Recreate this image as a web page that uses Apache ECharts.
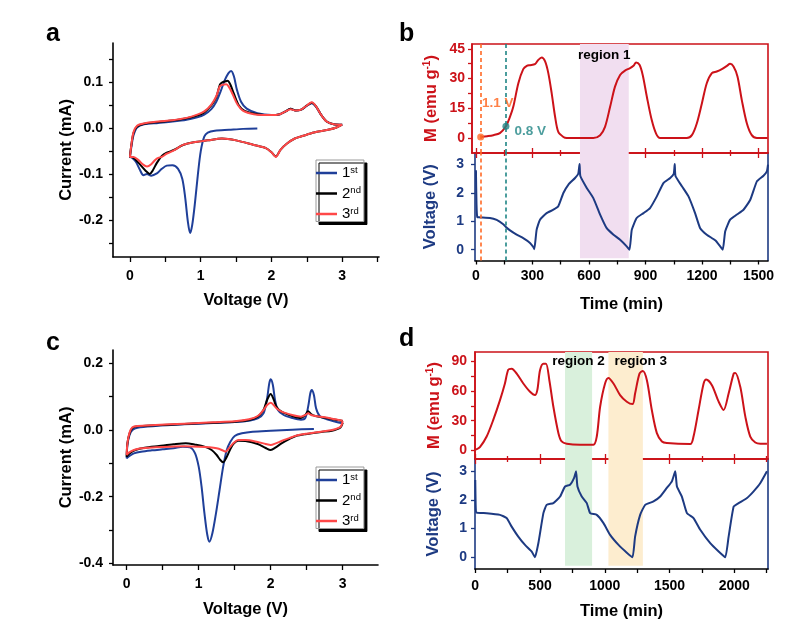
<!DOCTYPE html>
<html><head><meta charset="utf-8">
<script src="https://cdn.jsdelivr.net/npm/echarts@6/dist/echarts.min.js"></script>
<style>html,body{margin:0;padding:0;background:#fff}#c{width:800px;height:628px}</style>
</head><body><div id="c"></div>
<script>
// ---------------- DATA ----------------
// Panel a: CV curves [voltage (V), current (mA)]
const cvA_1st = [[1.80,0.000],[1.60,-0.001],[1.40,-0.003],[1.20,-0.005],[1.10,-0.009],[1.05,-0.018],[1.00,-0.050],[0.96,-0.100],[0.92,-0.160],[0.88,-0.210],[0.85,-0.228],[0.82,-0.205],[0.78,-0.150],[0.74,-0.110],[0.68,-0.088],[0.60,-0.080],[0.52,-0.081],[0.45,-0.088],[0.38,-0.098],[0.30,-0.103],[0.24,-0.099],[0.19,-0.102],[0.14,-0.090],[0.08,-0.072],[0.02,-0.063],[0.00,-0.062],
  [0.02,-0.040],[0.05,-0.015],[0.10,0.002],[0.20,0.009],[0.40,0.012],[0.60,0.015],[0.80,0.019],[0.95,0.024],[1.05,0.030],[1.15,0.042],[1.22,0.058],[1.28,0.080],[1.34,0.105],[1.39,0.120],[1.43,0.125],[1.47,0.113],[1.51,0.085],[1.57,0.058],[1.65,0.043],[1.80,0.033],[2.00,0.029],[2.12,0.031],[2.20,0.037],[2.27,0.043],[2.34,0.039],[2.42,0.041],[2.50,0.049],[2.57,0.055],[2.63,0.047],[2.70,0.030],[2.78,0.015],[2.88,0.009],[3.00,0.008]];
const cvA_2nd = [[3.00,0.008],[2.92,0.002],[2.80,-0.003],[2.60,-0.009],[2.45,-0.016],[2.33,-0.022],[2.22,-0.033],[2.13,-0.046],[2.06,-0.061],[2.00,-0.052],[1.92,-0.043],[1.75,-0.036],[1.50,-0.026],[1.30,-0.022],[1.10,-0.026],[0.90,-0.030],[0.75,-0.036],[0.62,-0.047],[0.52,-0.053],[0.45,-0.060],[0.38,-0.075],[0.32,-0.092],[0.28,-0.099],[0.22,-0.092],[0.15,-0.080],[0.08,-0.068],[0.02,-0.062],[0.00,-0.062],
  [0.02,-0.035],[0.05,-0.010],[0.10,0.004],[0.20,0.010],[0.40,0.014],[0.60,0.017],[0.80,0.022],[0.95,0.028],[1.05,0.035],[1.15,0.050],[1.22,0.068],[1.27,0.095],[1.30,0.100],[1.34,0.102],[1.38,0.104],[1.42,0.095],[1.47,0.075],[1.54,0.050],[1.62,0.038],[1.80,0.031],[2.00,0.029],[2.12,0.031],[2.20,0.037],[2.27,0.043],[2.34,0.039],[2.42,0.041],[2.50,0.050],[2.57,0.056],[2.63,0.048],[2.70,0.030],[2.78,0.015],[2.88,0.009],[3.00,0.008]];
const cvA_3rd = [[3.00,0.008],[2.92,0.002],[2.80,-0.003],[2.60,-0.009],[2.45,-0.016],[2.33,-0.022],[2.22,-0.033],[2.13,-0.046],[2.06,-0.062],[2.00,-0.052],[1.92,-0.043],[1.75,-0.036],[1.50,-0.026],[1.30,-0.022],[1.10,-0.026],[0.90,-0.030],[0.75,-0.036],[0.62,-0.048],[0.52,-0.055],[0.45,-0.062],[0.40,-0.064],[0.36,-0.068],[0.30,-0.078],[0.24,-0.083],[0.18,-0.078],[0.12,-0.069],[0.05,-0.062],[0.00,-0.062],
  [0.02,-0.035],[0.05,-0.008],[0.10,0.006],[0.20,0.011],[0.40,0.015],[0.60,0.018],[0.80,0.023],[0.95,0.030],[1.05,0.037],[1.15,0.052],[1.22,0.070],[1.27,0.092],[1.31,0.095],[1.36,0.096],[1.40,0.090],[1.45,0.075],[1.52,0.052],[1.60,0.038],[1.75,0.031],[2.00,0.029],[2.12,0.031],[2.20,0.037],[2.27,0.042],[2.34,0.039],[2.42,0.041],[2.50,0.050],[2.57,0.057],[2.63,0.048],[2.70,0.030],[2.78,0.015],[2.88,0.009],[3.00,0.008]];

// Panel c: CV curves [voltage (V), current (mA)]
const cvC_1st = [[2.60,0.003],[2.30,0.001],[2.00,-0.002],[1.75,-0.005],[1.60,-0.010],[1.50,-0.018],[1.44,-0.035],[1.39,-0.060],[1.34,-0.110],[1.29,-0.180],[1.24,-0.250],[1.19,-0.310],[1.15,-0.335],[1.12,-0.315],[1.08,-0.250],[1.04,-0.170],[1.00,-0.110],[0.95,-0.070],[0.88,-0.052],[0.78,-0.050],[0.65,-0.055],[0.50,-0.058],[0.35,-0.061],[0.20,-0.065],[0.10,-0.070],[0.04,-0.078],[0.00,-0.085],
  [0.01,-0.045],[0.04,-0.015],[0.08,0.000],[0.15,0.007],[0.40,0.012],[0.80,0.017],[1.20,0.021],[1.50,0.024],[1.70,0.028],[1.82,0.035],[1.90,0.050],[1.95,0.095],[1.98,0.140],[2.00,0.152],[2.03,0.135],[2.06,0.090],[2.10,0.060],[2.18,0.045],[2.30,0.036],[2.42,0.031],[2.48,0.036],[2.52,0.070],[2.55,0.110],[2.57,0.120],[2.60,0.105],[2.63,0.065],[2.68,0.042],[2.78,0.032],[2.90,0.025],[3.00,0.020]];
const cvC_2nd = [[3.00,0.022],[2.97,0.008],[2.85,-0.002],[2.70,-0.006],[2.50,-0.012],[2.35,-0.018],[2.25,-0.028],[2.15,-0.040],[2.07,-0.052],[2.00,-0.060],[1.93,-0.054],[1.82,-0.042],[1.65,-0.033],[1.55,-0.032],[1.48,-0.042],[1.43,-0.062],[1.38,-0.085],[1.34,-0.097],[1.30,-0.090],[1.25,-0.075],[1.18,-0.060],[1.08,-0.050],[0.95,-0.044],[0.82,-0.040],[0.65,-0.043],[0.45,-0.048],[0.25,-0.053],[0.12,-0.060],[0.04,-0.070],[0.00,-0.080],
  [0.01,-0.040],[0.04,-0.010],[0.08,0.006],[0.15,0.011],[0.40,0.014],[0.80,0.018],[1.20,0.022],[1.50,0.025],[1.70,0.030],[1.82,0.040],[1.90,0.060],[1.95,0.090],[2.00,0.108],[2.04,0.092],[2.08,0.070],[2.15,0.055],[2.30,0.042],[2.42,0.036],[2.48,0.045],[2.52,0.056],[2.56,0.048],[2.62,0.042],[2.75,0.037],[2.90,0.031],[3.00,0.027]];
const cvC_3rd = [[3.00,0.027],[2.97,0.010],[2.85,0.000],[2.70,-0.005],[2.50,-0.011],[2.35,-0.017],[2.25,-0.025],[2.15,-0.033],[2.07,-0.040],[2.00,-0.045],[1.93,-0.042],[1.82,-0.036],[1.65,-0.030],[1.55,-0.030],[1.48,-0.040],[1.42,-0.055],[1.37,-0.065],[1.32,-0.060],[1.25,-0.055],[1.15,-0.052],[1.00,-0.050],[0.80,-0.049],[0.60,-0.050],[0.40,-0.052],[0.20,-0.055],[0.10,-0.060],[0.03,-0.068],[0.00,-0.075],
  [0.01,-0.040],[0.04,-0.008],[0.08,0.008],[0.15,0.012],[0.40,0.015],[0.80,0.019],[1.20,0.023],[1.50,0.026],[1.70,0.032],[1.82,0.042],[1.90,0.060],[1.95,0.075],[2.00,0.082],[2.04,0.075],[2.08,0.065],[2.15,0.055],[2.30,0.045],[2.42,0.040],[2.48,0.045],[2.52,0.050],[2.56,0.045],[2.62,0.042],[2.75,0.038],[2.90,0.032],[3.00,0.028]];

// Panel b: [time (min), M (emu/g)] and [time (min), voltage (V)]
const bMagnet = [[25,0.5],[60,0.9],[92,1.4],[127,2.4],[159,5.9],[178,10],[198,15.7],[225,27.6],[251,34.7],[270,36.4],[287,36.7],[313,37.2],[331,39.4],[349,40.6],[367,38.6],[384,32.7],[402,22.5],[420,10.7],[437,3.0],[464,0.5],[482,0],[623,0],[659,1.4],[685,5.6],[712,15.7],[738,25.9],[765,31.8],[791,34.0],[818,35.2],[836,36.4],[850,38.1],[868,36.9],[885,31.8],[907,20.8],[933,9.0],[956,2.2],[977,0],[1119,0],[1146,1.4],[1172,7.3],[1199,17.4],[1225,27.6],[1252,32.7],[1278,33.5],[1305,34.7],[1332,36.4],[1349,37.4],[1367,36.0],[1388,31.0],[1411,19.1],[1438,7.3],[1464,1.4],[1491,0],[1548,0]];
const bVoltage = [[0,2.8],[3,1.6],[7,1.15],[21,1.14],[74,1.12],[110,1.05],[145,0.9],[159,0.8],[181,0.68],[216,0.53],[251,0.41],[287,0.24],[305,0.09],[310,0.02],[322,0.7],[340,1.06],[375,1.29],[411,1.41],[437,1.53],[464,2.0],[490,2.29],[526,2.53],[543,2.68],[550,3.02],[554,2.6],[588,2.18],[623,1.82],[659,1.24],[694,0.76],[730,0.53],[765,0.35],[800,0.12],[815,0.0],[827,0.7],[853,1.12],[889,1.29],[924,1.47],[960,1.88],[995,2.35],[1031,2.53],[1050,2.68],[1055,3.02],[1059,2.6],[1093,2.24],[1128,1.88],[1163,1.29],[1190,0.76],[1225,0.53],[1270,0.33],[1296,0.12],[1310,0.0],[1323,0.65],[1349,1.06],[1385,1.24],[1420,1.41],[1456,1.76],[1491,2.41],[1526,2.61],[1544,2.76],[1550,3.0]];
const bMarkers = [[25,0.5,'1.1 V'],[159,5.9,'0.8 V']];
const bRegion1 = [552, 811];

// Panel d
const dMagnet = [[5,0.7],[36,3.3],[88,14],[139,30.8],[191,50.8],[229,67.6],[255,81.6],[281,82.6],[320,77.6],[371,67.6],[423,59.2],[461,55.9],[479,60.9],[500,80.9],[526,87.6],[546,87.6],[572,70.9],[603,44.1],[642,17.4],[667,9],[706,6.7],[809,5.7],[912,5.7],[938,14],[964,44.1],[1002,67.6],[1028,73.2],[1067,67.6],[1118,55.9],[1170,49.2],[1214,46.8],[1234,57.5],[1268,77.6],[1294,80.3],[1325,70.9],[1363,40.8],[1402,17.4],[1441,9],[1479,7.4],[1660,6.4],[1685,14],[1724,40.8],[1763,67.6],[1783,71.6],[1827,65.9],[1879,49.2],[1917,40.8],[1956,57.5],[1995,77.6],[2008,78.3],[2046,64.2],[2085,34.1],[2123,14],[2162,8],[2201,6.7],[2252,6.7]];
const dVoltage = [[0,2.7],[4,1.7],[10,1.56],[88,1.54],[191,1.48],[242,1.37],[281,1.07],[332,0.72],[384,0.43],[436,0.2],[461,0],[487,0.49],[526,1.54],[551,1.83],[603,1.89],[655,2.12],[693,2.47],[732,2.53],[763,2.77],[778,3.0],[789,2.47],[822,2.12],[861,1.89],[887,1.54],[938,1.48],[990,1.19],[1041,0.78],[1106,0.43],[1170,0.16],[1214,0],[1234,0.72],[1273,1.48],[1312,1.83],[1376,1.95],[1428,2.12],[1479,2.42],[1518,2.65],[1544,3.0],[1557,2.47],[1595,2.12],[1634,1.54],[1685,1.37],[1737,0.96],[1814,0.49],[1879,0.2],[1930,0],[1956,0.72],[1995,1.77],[2033,1.89],[2098,2.07],[2149,2.3],[2201,2.59],[2252,3.0]];
const dRegion2 = [693, 902];
const dRegion3 = [1028, 1294];

// Ticks / labels
const cvXTicks = [0,0.5,1,1.5,2,2.5,3,3.5];
const cvXLabels = [0,1,2,3];
const aYTicks = [-0.25,-0.2,-0.15,-0.1,-0.05,0,0.05,0.1,0.15];
const aYLabels = [-0.2,-0.1,0,0.1];
const cYTicks = [-0.4,-0.3,-0.2,-0.1,0,0.1,0.2];
const cYLabels = [-0.4,-0.2,0,0.2];
const bTimeTicks = [0,150,300,450,600,750,900,1050,1200,1350,1500];
const bTimeMajor = [0,300,600,900,1200,1500];
const bTimeMinor = [150,450,750,1050,1350];
const bMTicks = [0,7.5,15,22.5,30,37.5,45];
const bMLabels = [0,15,30,45];
const voltTicks = [0,1,2,3];
const dTimeTicks = [0,250,500,750,1000,1250,1500,1750,2000,2250];
const dTimeMajor = [0,500,1000,1500,2000];
const dTimeMinor = [250,750,1250,1750,2250];
const dMTicks = [0,15,30,45,60,75,90];
const dMLabels = [0,30,60,90];
const cycleNames = ['1st','2nd','3rd'];

// ---------------- STYLE ----------------
const FONT = 'Liberation Sans';
const RED = '#cc1219', NAVY = '#1d3a82', CVBLUE = '#1f3f99', CVRED = '#ff4848';
const ORANGE = '#ff6a26', TEAL = '#1f8585';
const PINK = '#f1def0', GREEN = '#d9f0dc', PEACH = '#fdedcf';

function ax(o) {
  return {
    type: 'value', gridIndex: o.grid, min: o.min, max: o.max, position: o.pos,
    axisLine: {show: o.line !== false, onZero: false, lineStyle: {color: o.lineColor || '#000', width: 1.6}},
    axisTick: {show: !!o.ticks, inside: !!o.inside, length: o.tickLen || 4, customValues: o.ticks,
      lineStyle: {color: o.tickColor || o.lineColor || '#000', width: 1.3}},
    axisLabel: {show: !!o.labels, customValues: o.labels, margin: o.margin || 10, color: o.labelColor || '#000',
      fontSize: 14, fontWeight: 'bold', fontFamily: FONT, formatter: o.fmt || (v => String(v))},
    splitLine: {show: false}, minorTick: {show: false}, minorSplitLine: {show: false},
    name: o.name || '', nameLocation: 'middle', nameGap: o.nameGap || 30, nameRotate: o.nameRotate,
    nameTextStyle: {color: o.nameColor || '#000', fontSize: 16.5, fontWeight: 'bold', fontFamily: FONT, rich: o.rich}
  };
}
const f1 = v => v.toFixed(1);
const supRich = c => ({
  a: {fontSize: 16.5, fontWeight: 'bold', fontFamily: FONT, color: c, lineHeight: 18},
  s: {fontSize: 10, fontWeight: 'bold', fontFamily: FONT, color: c, lineHeight: 10, verticalAlign: 'top'}
});

const gridBase = {containLabel: false, outerBoundsMode: 'none'};
const grids = [
  Object.assign({left: 113, top: 43, width: 266, height: 214}, gridBase),
  Object.assign({left: 472, top: 44, width: 296, height: 109, show: true, borderColor: RED, borderWidth: 1.6, backgroundColor: 'transparent'}, gridBase),
  Object.assign({left: 475, top: 153, width: 293, height: 107.5}, gridBase),
  Object.assign({left: 113, top: 350, width: 265, height: 215}, gridBase),
  Object.assign({left: 475, top: 352, width: 293, height: 107, show: true, borderColor: RED, borderWidth: 1.6, backgroundColor: 'transparent'}, gridBase),
  Object.assign({left: 475, top: 459, width: 293, height: 110}, gridBase)
];

const xAxes = [
  ax({grid: 0, min: -0.24, max: 3.52, pos: 'bottom', ticks: cvXTicks, labels: cvXLabels, tickLen: 5, margin: 12, name: 'Voltage (V)', nameGap: 35}),
  ax({grid: 1, min: -21, max: 1550, pos: 'bottom', lineColor: RED, ticks: bTimeMajor, inside: true, tickLen: 5}),
  ax({grid: 1, min: -21, max: 1550, pos: 'bottom', line: false, tickColor: RED, ticks: bTimeMinor, inside: true, tickLen: 3}),
  ax({grid: 2, min: -5, max: 1550, pos: 'bottom', ticks: bTimeTicks, labels: bTimeMajor, margin: 9, name: 'Time (min)', nameGap: 35}),
  ax({grid: 2, min: -5, max: 1550, pos: 'top', lineColor: RED, ticks: bTimeMajor, inside: true, tickLen: 5}),
  ax({grid: 2, min: -5, max: 1550, pos: 'top', line: false, tickColor: RED, ticks: bTimeMinor, inside: true, tickLen: 3}),
  ax({grid: 3, min: -0.19, max: 3.49, pos: 'bottom', ticks: cvXTicks, labels: cvXLabels, tickLen: 5, margin: 12, name: 'Voltage (V)', nameGap: 36}),
  ax({grid: 4, min: -2, max: 2260, pos: 'bottom', lineColor: RED, ticks: dTimeMajor, inside: true, tickLen: 5}),
  ax({grid: 4, min: -2, max: 2260, pos: 'bottom', line: false, tickColor: RED, ticks: dTimeMinor, inside: true, tickLen: 3}),
  ax({grid: 5, min: -2, max: 2260, pos: 'bottom', ticks: dTimeTicks, labels: dTimeMajor, margin: 10, name: 'Time (min)', nameGap: 34}),
  ax({grid: 5, min: -2, max: 2260, pos: 'top', lineColor: RED, ticks: dTimeMajor, inside: true, tickLen: 5}),
  ax({grid: 5, min: -2, max: 2260, pos: 'top', line: false, tickColor: RED, ticks: dTimeMinor, inside: true, tickLen: 3})
];

const yAxes = [
  ax({grid: 0, min: -0.28, max: 0.186, pos: 'left', ticks: aYTicks, labels: aYLabels, margin: 10, fmt: f1, name: 'Current (mA)', nameGap: 34, nameRotate: 90}),
  ax({grid: 1, min: -7.6, max: 47.4, pos: 'left', lineColor: RED, labelColor: RED, ticks: bMTicks, labels: bMLabels, margin: 7,
      name: '{a|M (emu g}{s|-1}{a|)}', nameGap: 32, nameRotate: 90, nameColor: RED, rich: supRich(RED)}),
  ax({grid: 2, min: -0.38, max: 3.41, pos: 'left', lineColor: NAVY, labelColor: NAVY, ticks: voltTicks, labels: voltTicks, margin: 11,
      name: 'Voltage (V)', nameGap: 36, nameRotate: 90, nameColor: NAVY}),
  ax({grid: 2, min: -0.38, max: 3.41, pos: 'right', lineColor: NAVY}),
  ax({grid: 3, min: -0.405, max: 0.24, pos: 'left', ticks: cYTicks, labels: cYLabels, margin: 10, fmt: f1, name: 'Current (mA)', nameGap: 34, nameRotate: 90}),
  ax({grid: 4, min: -8.7, max: 99.4, pos: 'left', lineColor: RED, labelColor: RED, ticks: dMTicks, labels: dMLabels, margin: 8,
      name: '{a|M (emu g}{s|-1}{a|)}', nameGap: 32, nameRotate: 90, nameColor: RED, rich: supRich(RED)}),
  ax({grid: 5, min: -0.41, max: 3.43, pos: 'left', lineColor: NAVY, labelColor: NAVY, ticks: voltTicks, labels: voltTicks, margin: 8,
      name: 'Voltage (V)', nameGap: 33, nameRotate: 90, nameColor: NAVY}),
  ax({grid: 5, min: -0.41, max: 3.43, pos: 'right', lineColor: NAVY})
];

function cvSeries(name, data, color, xi, yi) {
  return {type: 'line', name, data, xAxisIndex: xi, yAxisIndex: yi, showSymbol: false, smooth: 0.3,
    lineStyle: {color, width: 2}, itemStyle: {color}, silent: true};
}
const regionLabel = {show: true, position: 'insideTop', distance: 4, color: '#000', fontSize: 13.5, fontWeight: 'bold', fontFamily: FONT};
const dashLines = {symbol: ['none', 'none'], silent: true, label: {show: false},
  lineStyle: {type: [4, 3], width: 1.6},
  data: [{xAxis: bMarkers[0][0], lineStyle: {color: ORANGE}}, {xAxis: bMarkers[1][0], lineStyle: {color: TEAL}}]};

const series = [
  cvSeries(cycleNames[0], cvA_1st, CVBLUE, 0, 0),
  cvSeries(cycleNames[1], cvA_2nd, '#000', 0, 0),
  cvSeries(cycleNames[2], cvA_3rd, CVRED, 0, 0),
  cvSeries(cycleNames[0], cvC_1st, CVBLUE, 6, 4),
  cvSeries(cycleNames[1], cvC_2nd, '#000', 6, 4),
  cvSeries(cycleNames[2], cvC_3rd, CVRED, 6, 4),
  {type: 'line', data: bMagnet, xAxisIndex: 1, yAxisIndex: 1, showSymbol: false, smooth: 0.3, silent: true,
    lineStyle: {color: RED, width: 2},
    markArea: {silent: true, itemStyle: {color: PINK}, label: regionLabel,
      data: [[{name: 'region 1', xAxis: bRegion1[0]}, {xAxis: bRegion1[1]}]]},
    markLine: dashLines},
  {type: 'line', data: bVoltage, xAxisIndex: 3, yAxisIndex: 2, showSymbol: false, smooth: 0.15, silent: true,
    lineStyle: {color: NAVY, width: 2},
    markArea: {silent: true, itemStyle: {color: PINK}, label: {show: false},
      data: [[{xAxis: bRegion1[0], yAxis: -0.3}, {xAxis: bRegion1[1], yAxis: 3.41}]]},
    markLine: dashLines},
  {type: 'scatter', xAxisIndex: 1, yAxisIndex: 1, symbolSize: 7, silent: true, z: 5,
    data: [
      {value: bMarkers[0].slice(0, 2), itemStyle: {color: ORANGE},
        label: {show: true, formatter: bMarkers[0][2], position: 'top', offset: [17, -18], color: ORANGE, opacity: 0.85, fontSize: 13.5, fontWeight: 'bold', fontFamily: FONT}},
      {value: bMarkers[1].slice(0, 2), itemStyle: {color: TEAL},
        label: {show: true, formatter: bMarkers[1][2], position: 'right', offset: [0, 5], color: TEAL, fontSize: 13.5, fontWeight: 'bold', fontFamily: FONT}}
    ]},
  {type: 'line', data: dMagnet, xAxisIndex: 7, yAxisIndex: 5, showSymbol: false, smooth: 0.3, silent: true,
    lineStyle: {color: RED, width: 2},
    markArea: {silent: true, label: regionLabel,
      data: [[{name: 'region 2', xAxis: dRegion2[0], itemStyle: {color: GREEN}, label: {distance: 2}}, {xAxis: dRegion2[1]}],
             [{name: 'region 3', xAxis: dRegion3[0], itemStyle: {color: PEACH}, label: {distance: 2, offset: [15, 0]}}, {xAxis: dRegion3[1]}]]}},
  {type: 'line', data: dVoltage, xAxisIndex: 9, yAxisIndex: 6, showSymbol: false, smooth: 0.15, silent: true,
    lineStyle: {color: NAVY, width: 2},
    markArea: {silent: true, label: {show: false},
      data: [[{xAxis: dRegion2[0], yAxis: -0.3, itemStyle: {color: GREEN}}, {xAxis: dRegion2[1], yAxis: 3.43}],
             [{xAxis: dRegion3[0], yAxis: -0.3, itemStyle: {color: PEACH}}, {xAxis: dRegion3[1], yAxis: 3.43}]]}}
];

function legendAt(top) {
  return {
    left: 316, top, orient: 'vertical', data: cycleNames, selectedMode: false,
    icon: 'rect', itemWidth: 21, itemHeight: 2.5, itemGap: 5, padding: [5, 3, 0, 0],
    backgroundColor: '#fff', borderColor: '#9a9a9a', borderWidth: 1,
    shadowColor: '#000', shadowOffsetX: 3, shadowOffsetY: 3, shadowBlur: 0.01,
    formatter: n => '{n|' + n.charAt(0) + '}{s|' + n.slice(1) + '}',
    textStyle: {rich: {
      n: {fontSize: 15, fontFamily: FONT, color: '#000', lineHeight: 16},
      s: {fontSize: 9.5, fontFamily: FONT, color: '#000', lineHeight: 9, verticalAlign: 'top'}
    }}
  };
}

const letterFont = 'bold 25px "Liberation Sans"';
const option = {
  animation: false,
  backgroundColor: '#fff',
  grid: grids, xAxis: xAxes, yAxis: yAxes, series,
  legend: [legendAt(160), legendAt(467)],
  graphic: [
    {type: 'text', left: 46, top: 22, style: {text: 'a', font: letterFont, fill: '#000'}},
    {type: 'text', left: 399, top: 22, style: {text: 'b', font: letterFont, fill: '#000'}},
    {type: 'text', left: 46, top: 331, style: {text: 'c', font: letterFont, fill: '#000'}},
    {type: 'text', left: 399, top: 327, style: {text: 'd', font: letterFont, fill: '#000'}}
  ]
};
const chart = echarts.init(document.getElementById('c'), null, {renderer: 'canvas'});
chart.setOption(option);
</script></body></html>
